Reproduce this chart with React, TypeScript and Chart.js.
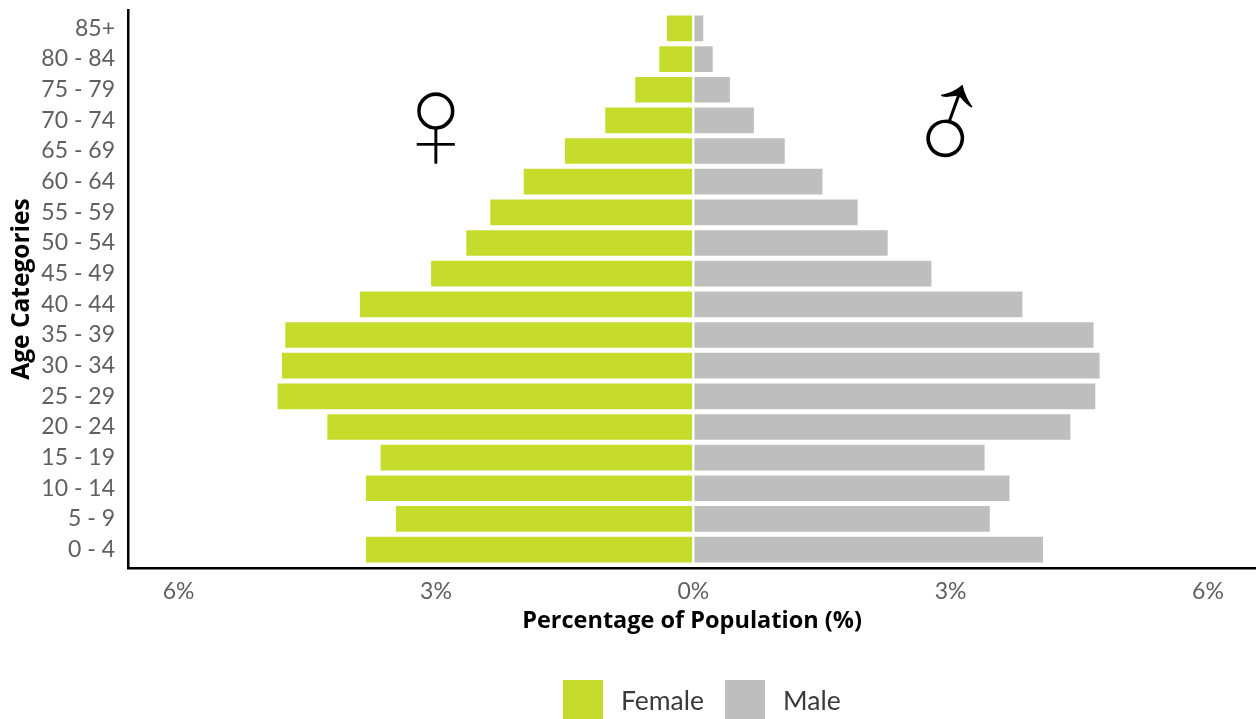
import React, { useEffect, useRef } from "react";
import { Chart, registerables } from "chart.js";

Chart.register(...registerables);

const ageCategories = ["0 - 4", "5 - 9", "10 - 14", "15 - 19", "20 - 24", "25 - 29", "30 - 34", "35 - 39", "40 - 44", "45 - 49", "50 - 54", "55 - 59", "60 - 64", "65 - 69", "70 - 74", "75 - 79", "80 - 84", "85+"];
const femaleShare = [3.83, 3.48, 3.83, 3.66, 4.28, 4.86, 4.81, 4.77, 3.90, 3.07, 2.66, 2.38, 1.99, 1.51, 1.04, 0.69, 0.41, 0.32];
const maleShare = [4.09, 3.47, 3.70, 3.41, 4.41, 4.70, 4.75, 4.68, 3.85, 2.79, 2.28, 1.93, 1.52, 1.08, 0.72, 0.44, 0.24, 0.13];
const percentTicks = [-6, -3, 0, 3, 6];

const FONT = "Lato, 'Open Sans', sans-serif";
const BOLD_FONT = "'Open Sans', sans-serif";
const FEMALE_COLOR = "#c5dc2c";
const MALE_COLOR = "#bebebe";

// Sex symbols placed in data coordinates; a white outline thins the glyph strokes.
const symbolPlugin = {
  id: "sexSymbols",
  afterDatasetsDraw(chart: any) {
    const { ctx, scales } = chart;
    const drawGlyph = (glyph: string, x: number, y: number, angle: number, size: number, thin: number) => {
      ctx.save();
      ctx.translate(x, y);
      ctx.rotate(angle);
      ctx.fillStyle = "#000";
      ctx.strokeStyle = "#fff";
      ctx.lineWidth = thin;
      ctx.textAlign = "center";
      ctx.textBaseline = "middle";
      ctx.font = `${size}px 'Liberation Sans'`;
      ctx.fillText(glyph, 0, 0);
      ctx.strokeText(glyph, 0, 0);
      ctx.restore();
    };
    drawGlyph("\u2640", scales.x.getPixelForValue(-3), scales.y.getPixelForValue(13.65), 0, 140, 2);
    drawGlyph("\u2642", scales.x.getPixelForValue(3.03), scales.y.getPixelForValue(13.6), (-25 * Math.PI) / 180, 140, 1.4);
  },
};

// Legend row with square swatches, laid out from the dataset styles.
const legendPlugin = {
  id: "swatchLegend",
  afterDraw(chart: any) {
    const { ctx } = chart;
    const swatchX = [563, 725];
    ctx.save();
    ctx.font = `26.5px ${FONT}`;
    ctx.textBaseline = "middle";
    chart.data.datasets.forEach((ds: any, i: number) => {
      ctx.fillStyle = ds.backgroundColor;
      ctx.fillRect(swatchX[i], 680, 40, 39);
      ctx.fillStyle = "#3a3a3a";
      ctx.fillText(ds.label, swatchX[i] + 58, 701);
    });
    ctx.restore();
  },
};

export default function App() {
  const ref = useRef<HTMLCanvasElement>(null);
  useEffect(() => {
    const toPoints = (vals: number[], sign: number) => vals.map((v, i) => ({ x: sign * v, y: i }));
    const barStyle = { borderColor: "#fff", borderWidth: 1.5, borderSkipped: false, barThickness: 28 };
    const chart = new Chart(ref.current!, {
      type: "bar",
      data: {
        datasets: [
          { label: "Female", data: toPoints(femaleShare, -1), backgroundColor: FEMALE_COLOR, ...barStyle },
          { label: "Male", data: toPoints(maleShare, 1), backgroundColor: MALE_COLOR, ...barStyle },
        ],
      },
      options: {
        indexAxis: "y",
        responsive: false,
        animation: false,
        layout: { padding: { top: 10, left: 0, right: 0, bottom: 0 } },
        plugins: { legend: { display: false }, tooltip: { enabled: false } },
        scales: {
          x: {
            type: "linear",
            stacked: true,
            min: -6.59,
            max: 6.56,
            afterBuildTicks: (s: any) => { s.ticks = percentTicks.map((value) => ({ value })); },
            afterFit: (s: any) => { s.height = 151; s.paddingLeft = 0; s.paddingRight = 0; },
            grid: { display: false, drawTicks: false },
            border: { display: true, color: "#000", width: 2.5 },
            ticks: { color: "#5f5f5f", font: { family: FONT, size: 23 }, padding: 10, maxRotation: 0, callback: (v: any) => `${Math.abs(v)}%` },
            title: { display: true, text: "Percentage of Population (%)", color: "#000", font: { family: BOLD_FONT, size: 23.5, weight: "bold" }, padding: { top: 0, bottom: 84 } },
          },
          y: {
            type: "linear",
            stacked: true,
            offset: false,
            min: -0.6,
            max: 17.6,
            afterBuildTicks: (s: any) => { s.ticks = ageCategories.map((_, value) => ({ value })); },
            afterFit: (s: any) => { s.width = 128; s.paddingTop = 0; s.paddingBottom = 0; },
            grid: { display: false, drawTicks: false },
            border: { display: true, color: "#000", width: 2.5 },
            ticks: { color: "#5f5f5f", font: { family: FONT, size: 23 }, padding: 13, autoSkip: false, callback: (v: any) => ageCategories[v] },
            title: { display: true, text: "Age Categories", color: "#000", font: { family: BOLD_FONT, size: 24.5, weight: "bold" }, padding: { top: 7, bottom: 0 } },
          },
        },
      },
      plugins: [symbolPlugin, legendPlugin],
    } as any);
    return () => chart.destroy();
  }, []);
  return (
    <div style={{ position: "fixed", left: 0, top: 0, width: 1256, height: 719 }}>
      <canvas ref={ref} width={1256} height={719} style={{ display: "block" }} />
    </div>
  );
}
